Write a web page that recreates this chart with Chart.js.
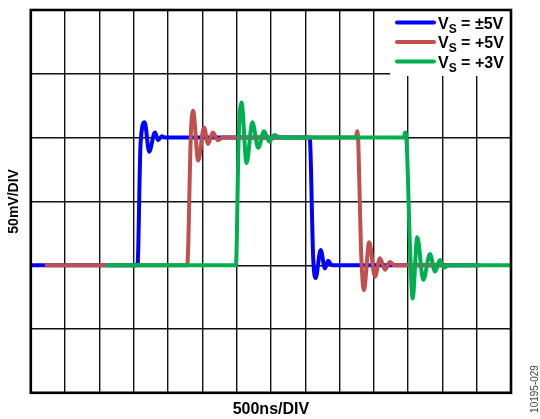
<!DOCTYPE html>
<html>
<head>
<meta charset="utf-8">
<script src="https://cdn.jsdelivr.net/npm/chart.js@4/dist/chart.umd.min.js"></script>
<style>
  html, body { margin: 0; padding: 0; background: #fff; }
  #wrap { position: relative; width: 540px; height: 419px; }
</style>
</head>
<body>
<div id="wrap"><canvas id="scope"></canvas></div>
<script>
// time in ns (500ns/DIV), amplitude in mV (50mV/DIV)
const bluePm5T = [0, 1555, 1600, 1660, 1725, 1810, 1855, 1910, 1960, 4065, 4117, 4152, 4225, 4288, 4336, 4385, 6520];
const bluePm5V = [0, 0, 95, 112, 89, 104, 98, 101, 100, 100, 5, -10, 12, -2.5, 3.5, 0, 0];

const redP5T = [205, 2280, 2335, 2366, 2440, 2525, 2585, 2655, 2725, 2800, 4740, 4758, 4775, 4812, 4856, 4933, 5017, 5090, 5163, 5235, 5300, 6550];
const redP5V = [0, 0, 105, 121, 82, 108, 95, 104, 98, 100, 100, 105, 95, 15, -19.5, 18, -9, 5.5, -3.5, 2.5, 0, 0];

const greenP3T = [1095, 2990, 3030, 3072, 3145, 3230, 3315, 3400, 3475, 3555, 3630, 5440, 5455, 5480, 5527, 5566, 5634, 5721, 5819, 5892, 5965, 6023, 6090, 7000];
const greenP3V = [0, 0, 100, 127.5, 80, 112, 92, 105, 97, 102, 100, 100, 104, 95, 15, -26, 22, -11.5, 8.7, -5, 4, -2, 0, 0];

const seriesNames = ["\u00b15V", "+5V", "+3V"];
const seriesColors = ["#0000ff", "#c0504d", "#00b050"];

const FONT = "Arial, 'Liberation Sans', sans-serif";

function toPoints(ts, vs) {
  return ts.map((t, i) => ({ x: t, y: vs[i] }));
}

// legend box + outer frame + figure code
const scopeDecor = {
  id: "scopeDecor",
  afterDatasetsDraw(chart) {
    const ctx = chart.ctx;
    const a = chart.chartArea;
    ctx.save();
    // white legend box hides grid
    ctx.fillStyle = "#fff";
    ctx.fillRect(390, a.top, a.right - 390, 76 - a.top);

    const rowsY = [22.5, 42, 61.5];
    rowsY.forEach((y, i) => {
      ctx.strokeStyle = seriesColors[i];
      ctx.lineWidth = 4;
      ctx.lineCap = "round";
      ctx.beginPath();
      ctx.moveTo(397, y);
      ctx.lineTo(434, y);
      ctx.stroke();

      const base = y + 6;
      let x = 438;
      ctx.fillStyle = "#000";
      ctx.textBaseline = "alphabetic";
      ctx.textAlign = "left";
      ctx.font = "bold 16px " + FONT;
      ctx.fillText("V", x, base);
      x += ctx.measureText("V").width;
      ctx.font = "bold 12px " + FONT;
      ctx.fillText("S", x, base + 4);
      x += ctx.measureText("S").width;
      ctx.font = "bold 16px " + FONT;
      ctx.fillText(" = " + seriesNames[i], x, base);
    });

    // frame
    ctx.strokeStyle = "#000";
    ctx.lineWidth = 2.6;
    ctx.lineCap = "butt";
    ctx.strokeRect(a.left, a.top, a.right - a.left, a.bottom - a.top);

    // figure code
    ctx.translate(535, 389);
    ctx.rotate(-Math.PI / 2);
    ctx.font = "10px " + FONT;
    ctx.fillStyle = "#444";
    ctx.textAlign = "center";
    ctx.textBaseline = "middle";
    ctx.fillText("10195-029", 0, 0);
    ctx.restore();
  }
};

function makeSet(ts, vs, i) {
  return {
    label: "VS = " + seriesNames[i],
    data: toPoints(ts, vs),
    borderColor: seriesColors[i],
    borderWidth: 4,
    pointRadius: 0,
    cubicInterpolationMode: "monotone",
    order: 3 - i
  };
}

new Chart(document.getElementById("scope"), {
  type: "line",
  data: {
    datasets: [
      makeSet(bluePm5T, bluePm5V, 0),
      makeSet(redP5T, redP5V, 1),
      makeSet(greenP3T, greenP3V, 2)
    ]
  },
  options: {
    responsive: true,
    maintainAspectRatio: false,
    animation: false,
    events: [],
    layout: { padding: { left: 0, right: 29, top: 10, bottom: 0 } },
    plugins: {
      legend: { display: false },
      tooltip: { enabled: false }
    },
    scales: {
      x: {
        type: "linear",
        min: 0,
        max: 7000,
        ticks: { display: false, stepSize: 500 },
        grid: { color: "#111", lineWidth: 1.4, drawTicks: false },
        border: { display: false },
        title: {
          display: true,
          text: "500ns/DIV",
          color: "#000",
          font: { family: FONT, size: 16, weight: "bold" },
          padding: { top: 7, bottom: 0 }
        }
      },
      y: {
        type: "linear",
        min: -100,
        max: 200,
        ticks: { display: false, stepSize: 50 },
        grid: { color: "#111", lineWidth: 1.4, drawTicks: false },
        border: { display: false },
        title: {
          display: true,
          text: "50mV/DIV",
          color: "#000",
          font: { family: FONT, size: 14, weight: "bold" },
          padding: { top: 6, bottom: 8 }
        }
      }
    }
  },
  plugins: [scopeDecor]
});
</script>
</body>
</html>
